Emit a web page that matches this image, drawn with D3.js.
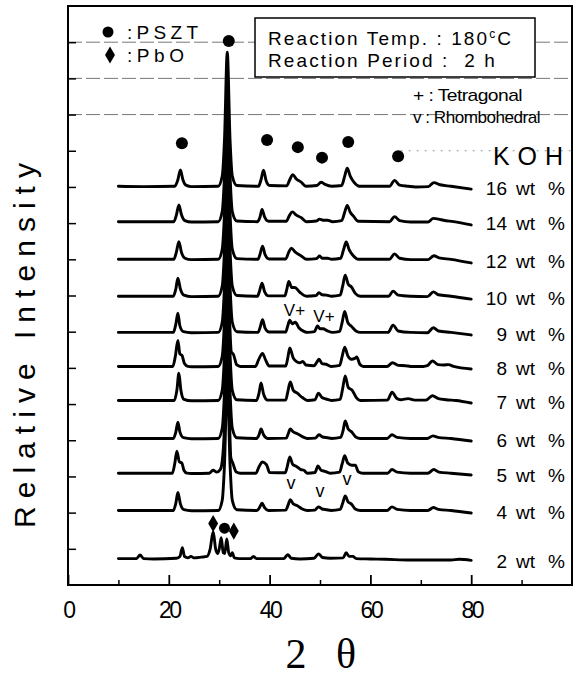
<!DOCTYPE html>
<html><head><meta charset="utf-8">
<script src="https://cdn.jsdelivr.net/npm/d3@7"></script>
<style>
html,body{margin:0;padding:0;background:#fff;}
svg{display:block;}
text{font-family:"Liberation Sans",Arial,sans-serif;fill:#000;}
</style></head>
<body>
<svg id="chart" width="575" height="678"></svg>
<script>
// ---------------- data (2θ in degrees, relative intensity in stacking units) -------------
const kohLabels = ["16","14","12","10","9","8","7","6","5","4","2"];
const offsets   = [11.0, 10.02, 8.98, 7.96, 6.96, 6.02, 5.08, 4.03, 3.07, 2.04, 0.69];

const koh16 = [[10,0.02],[15,0.01],[21.2,0.02],[21.8,0.2],[22.3,0.47],[22.8,0.2],[23.4,0.05],[24.5,0.01],[29.8,0.02],[30.6,0.3],[31.05,1.3],[31.6,3.72],[32.15,1.3],[32.6,0.3],[33.5,0.04],[37.8,0.02],[38.3,0.2],[38.8,0.46],[39.3,0.18],[40.0,0.04],[43.4,0.03],[44.0,0.2],[44.6,0.34],[45.3,0.22],[46.2,0.14],[47.2,0.02],[49.4,0.04],[50.2,0.13],[51.0,0.07],[52.3,0.02],[54.3,0.04],[54.9,0.3],[55.4,0.52],[56.0,0.3],[56.8,0.12],[57.8,0.02],[63.8,0.02],[64.8,0.18],[65.8,0.05],[67.5,0.02],[69,0.0],[71.5,0.01],[72.6,0.12],[73.8,0.06],[76,0.02],[80,-0.06]];
const koh14 = [[10,0.02],[21.0,0.02],[21.5,0.2],[22.0,0.48],[22.5,0.22],[23.2,0.05],[24.5,0.01],[29.8,0.02],[30.6,0.3],[31.05,1.3],[31.6,3.7],[32.15,1.3],[32.6,0.3],[33.5,0.04],[37.6,0.02],[38.1,0.15],[38.5,0.36],[39.0,0.15],[39.8,0.03],[43.3,0.03],[43.9,0.18],[44.5,0.29],[45.3,0.2],[46.3,0.13],[47.3,0.02],[49.3,0.04],[49.9,0.09],[50.6,0.06],[51.5,0.06],[52.5,0.02],[54.3,0.05],[54.9,0.28],[55.4,0.47],[56.0,0.28],[56.6,0.18],[57.6,0.03],[63.8,0.02],[64.8,0.16],[65.8,0.05],[68,0.01],[71.4,0.01],[72.5,0.11],[73.5,0.09],[74.5,0.06],[76.5,0.02],[80,-0.07]];
const koh12 = [[10,0.02],[21.0,0.02],[21.5,0.22],[22.0,0.51],[22.5,0.22],[23.2,0.05],[24.5,0.01],[29.8,0.02],[30.6,0.3],[31.05,1.3],[31.6,3.7],[32.15,1.3],[32.6,0.3],[33.5,0.04],[37.7,0.02],[38.1,0.16],[38.6,0.38],[39.1,0.15],[39.9,0.03],[43.2,0.03],[43.8,0.22],[44.3,0.33],[45.1,0.22],[46.2,0.12],[47.4,0.02],[49.3,0.04],[49.9,0.11],[50.5,0.05],[51.5,0.05],[52.3,0.02],[54.1,0.05],[54.7,0.3],[55.2,0.5],[55.8,0.28],[56.6,0.12],[57.6,0.02],[63.8,0.02],[64.8,0.17],[65.8,0.05],[68,0.01],[71.4,0.01],[72.6,0.12],[73.6,0.06],[76,0.02],[80,-0.08]];
const koh10 = [[10,0.02],[20.9,0.02],[21.4,0.22],[21.8,0.52],[22.3,0.22],[23.0,0.05],[24.5,0.01],[29.8,0.02],[30.6,0.3],[31.05,1.3],[31.6,3.7],[32.15,1.3],[32.6,0.3],[33.5,0.04],[37.6,0.02],[38.0,0.16],[38.5,0.38],[39.0,0.15],[39.8,0.03],[43.0,0.03],[43.4,0.2],[43.8,0.43],[44.4,0.26],[45.0,0.26],[46.0,0.13],[47.3,0.02],[49.2,0.04],[49.8,0.12],[50.4,0.06],[51.3,0.05],[52.3,0.02],[54.0,0.05],[54.5,0.3],[55.0,0.6],[55.6,0.35],[56.2,0.28],[57.0,0.1],[58.0,0.02],[63.6,0.02],[64.5,0.16],[65.5,0.05],[68,0.02],[71.3,0.01],[72.5,0.14],[73.5,0.06],[76,0.02],[80,-0.06]];
const koh9  = [[10,0.02],[20.9,0.02],[21.4,0.25],[21.8,0.55],[22.2,0.2],[22.9,0.04],[24.5,0.01],[29.8,0.02],[30.6,0.3],[31.05,1.3],[31.6,3.7],[32.15,1.3],[32.6,0.3],[33.5,0.04],[37.7,0.02],[38.1,0.15],[38.6,0.37],[39.1,0.14],[39.9,0.03],[43.2,0.03],[43.6,0.2],[44.0,0.36],[44.5,0.26],[45.1,0.3],[45.8,0.15],[46.8,0.05],[47.6,0.02],[48.9,0.04],[49.5,0.2],[50.0,0.12],[50.6,0.12],[51.5,0.06],[52.5,0.02],[53.9,0.05],[54.4,0.3],[54.9,0.6],[55.5,0.3],[56.3,0.18],[57.2,0.05],[58.0,0.02],[63.5,0.02],[64.5,0.22],[65.5,0.06],[68,0.02],[71.3,0.01],[72.5,0.15],[73.5,0.06],[76,0.02],[80,-0.05]];
const koh8  = [[10,0.02],[20.8,0.02],[21.3,0.3],[21.8,0.74],[22.2,0.36],[22.6,0.33],[23.1,0.1],[23.8,0.02],[24.5,0.01],[29.8,0.02],[30.6,0.3],[31.05,1.3],[31.6,3.7],[32.1,1.2],[32.4,0.42],[32.8,0.36],[33.5,0.06],[34.2,0.02],[37.2,0.02],[37.8,0.2],[38.6,0.38],[39.2,0.2],[39.9,0.03],[43.2,0.03],[43.6,0.25],[44.0,0.53],[44.7,0.25],[45.5,0.14],[46.0,0.12],[46.6,0.16],[47.2,0.06],[48.8,0.04],[49.3,0.12],[49.8,0.22],[50.4,0.1],[51.2,0.08],[52.2,0.02],[53.9,0.05],[54.4,0.3],[54.9,0.55],[55.5,0.32],[56.2,0.22],[57.0,0.25],[57.3,0.28],[57.9,0.08],[58.6,0.02],[63.3,0.02],[64.4,0.12],[65.5,0.05],[67,0.04],[68,0.02],[70.5,0.02],[71.3,0.04],[72.3,0.17],[73.4,0.07],[74.5,0.06],[75.5,0.07],[76.5,0.02],[80,-0.05]];
const koh7  = [[10,0.02],[21.1,0.02],[21.6,0.3],[22.0,0.77],[22.4,0.3],[23.0,0.05],[24.5,0.01],[29.8,0.02],[30.6,0.3],[31.05,1.3],[31.6,3.7],[32.15,1.3],[32.6,0.3],[33.5,0.04],[37.4,0.02],[37.9,0.22],[38.3,0.5],[38.8,0.2],[39.6,0.03],[43.2,0.03],[43.6,0.25],[44.1,0.53],[44.7,0.3],[45.5,0.22],[46.5,0.1],[47.5,0.02],[49.0,0.04],[49.7,0.22],[50.4,0.1],[51.2,0.06],[52.3,0.02],[54.0,0.05],[54.5,0.35],[55.0,0.7],[55.6,0.38],[56.4,0.3],[57.2,0.1],[58.0,0.02],[63.4,0.03],[64.3,0.25],[65.2,0.08],[66.0,0.04],[67.5,0.07],[68.8,0.03],[71.0,0.03],[72.3,0.15],[73.5,0.07],[75,0.04],[77,0.02],[80,-0.05]];
const koh6  = [[10,0.02],[20.9,0.02],[21.4,0.2],[21.8,0.47],[22.2,0.2],[22.9,0.04],[24.5,0.01],[29.8,0.02],[30.6,0.3],[31.05,1.3],[31.6,3.7],[32.15,1.3],[32.6,0.3],[33.5,0.04],[37.4,0.02],[37.9,0.12],[38.3,0.28],[38.8,0.12],[39.6,0.02],[43.3,0.03],[43.7,0.15],[44.1,0.28],[44.7,0.2],[45.5,0.15],[46.5,0.07],[47.5,0.02],[49.1,0.03],[49.8,0.12],[50.5,0.06],[51.5,0.04],[52.3,0.02],[54.1,0.05],[54.6,0.25],[55.0,0.5],[55.6,0.28],[56.3,0.2],[57.1,0.06],[58.0,0.02],[63.3,0.02],[64.3,0.12],[65.3,0.05],[68,0.02],[71.3,0.02],[72.4,0.09],[73.4,0.05],[76,0.02],[80,-0.05]];
const koh5  = [[10,0.02],[20.7,0.02],[21.2,0.3],[21.6,0.63],[22.1,0.33],[22.6,0.3],[23.0,0.1],[23.6,0.02],[24.5,0.01],[28.0,0.02],[28.8,0.1],[29.5,0.05],[30.2,0.12],[30.6,0.35],[31.05,1.3],[31.6,3.7],[32.1,1.2],[32.3,0.45],[32.7,0.3],[33.4,0.05],[34.2,0.02],[37.3,0.02],[37.9,0.2],[38.6,0.33],[39.4,0.25],[40.0,0.04],[43.1,0.03],[43.5,0.2],[44.0,0.47],[44.6,0.26],[45.4,0.2],[46.2,0.12],[46.8,0.1],[47.5,0.02],[49.0,0.04],[49.6,0.22],[50.2,0.1],[51.0,0.07],[52.0,0.02],[53.9,0.05],[54.4,0.28],[54.9,0.5],[55.5,0.3],[56.3,0.24],[57.0,0.24],[57.6,0.06],[58.5,0.02],[63.4,0.02],[64.3,0.12],[65.3,0.05],[68,0.02],[71.4,0.02],[72.6,0.12],[73.6,0.05],[76,0.02],[80,-0.03]];
const koh4  = [[10,0.02],[20.9,0.02],[21.4,0.22],[21.8,0.52],[22.3,0.2],[23.0,0.04],[24.5,0.01],[29.8,0.02],[30.6,0.3],[31.05,1.3],[31.6,3.7],[32.15,1.3],[32.6,0.3],[33.5,0.04],[37.5,0.02],[38.0,0.1],[38.5,0.22],[39.0,0.1],[39.8,0.02],[43.2,0.03],[43.7,0.18],[44.1,0.32],[44.7,0.2],[45.5,0.15],[46.5,0.06],[47.5,0.02],[49.0,0.03],[49.7,0.12],[50.4,0.06],[51.3,0.04],[52.2,0.02],[54.0,0.05],[54.5,0.22],[55.0,0.42],[55.6,0.25],[56.2,0.2],[57.0,0.06],[58.0,0.02],[63.3,0.02],[64.3,0.12],[65.3,0.05],[68,0.02],[71.4,0.02],[72.5,0.1],[73.5,0.05],[76,0.02],[80,-0.05]];
const koh2  = [[10,0.04],[13.6,0.04],[14.3,0.14],[15.0,0.04],[17,0.03],[21.5,0.05],[22.2,0.1],[22.7,0.34],[23.1,0.1],[23.8,0.06],[24.4,0.1],[25.0,0.06],[26.5,0.08],[27.6,0.1],[28.2,0.3],[28.8,0.78],[29.3,0.3],[29.7,0.18],[30.0,0.3],[30.4,0.62],[30.8,0.2],[31.1,0.18],[31.5,0.58],[31.9,0.2],[32.3,0.12],[32.6,0.2],[33.0,0.06],[34,0.04],[36.2,0.04],[36.8,0.1],[37.4,0.04],[39,0.04],[42.8,0.04],[43.6,0.15],[44.3,0.05],[46,0.03],[48.8,0.05],[49.7,0.17],[50.5,0.07],[52,0.05],[54.6,0.06],[55.2,0.2],[55.8,0.1],[56.5,0.1],[57.2,0.04],[60,0.03],[63,0.02],[68,0.0],[76,0.0],[77.6,0.02],[80,-0.01]];
const patterns = [koh16, koh14, koh12, koh10, koh9, koh8, koh7, koh6, koh5, koh4, koh2];

// phase markers: [2θ, stacked intensity]
const psztDots   = [[22.6,12.21],[31.9,15.03],[39.5,12.30],[45.6,12.10],[50.4,11.81],[55.6,12.24],[65.5,11.85]];
const psztDots2  = [[31.05,1.57]];
const pboMarks   = [[28.8,1.70],[32.9,1.49]];
const tetraMarks = [[44.94,7.60,"V+"],[50.79,7.45,"V+"]];
const rhomboMarks= [[44.25,2.76],[50.0,2.54],[55.36,2.85]];

const thetaTicks = [0,20,40,60,80];
const thetaMinor = [10,30,50,70,90];
const intensityTicks = [1,2,3,4,5,6,7,8,9,10,11,12,13,14,15];
const gridLevels = [15,14,13];

// ---------------- drawing -------------
const svg = d3.select("#chart");
const L = 68, R = 572, T = 6, B = 585;
const x = d3.scaleLinear().domain([0,100]).range([L,R]);
const y = d3.scaleLinear().domain([0,16]).range([B,T]);

// faint dashed scan lines
svg.append("g").selectAll("line").data(gridLevels).join("line")
  .attr("x1",L).attr("x2",R).attr("y1",d=>y(d)).attr("y2",d=>y(d))
  .attr("stroke","#777").attr("stroke-width",1).attr("stroke-dasharray","14,4");
svg.append("line").attr("x1",x(66)).attr("x2",R).attr("y1",y(12)).attr("y2",y(12))
  .attr("stroke","#999").attr("stroke-width",1).attr("stroke-dasharray","2,6");

// traces
const line = d3.line().x(d=>x(d[0])).y(d=>d[1]).curve(d3.curveMonotoneX);
svg.append("g").selectAll("path").data(patterns).join("path")
  .attr("d",(p,i)=>line(p.map(d=>[d[0], y(offsets[i]+d[1])])))
  .attr("fill","none").attr("stroke","#000").attr("stroke-width",2.9)
  .attr("stroke-linejoin","round").attr("stroke-linecap","round");

// frame
svg.append("rect").attr("x",L).attr("y",T).attr("width",R-L).attr("height",B-T)
  .attr("fill","none").attr("stroke","#000").attr("stroke-width",2);

// axes ticks (inward)
const xAx = svg.append("g").attr("transform",`translate(0,${B})`)
  .call(d3.axisBottom(x).tickValues(thetaTicks).tickSize(-10).tickPadding(17).tickFormat(d3.format("d")));
xAx.select(".domain").remove();
xAx.selectAll("line").attr("stroke","#000").attr("stroke-width",1.8);
xAx.selectAll("text").attr("font-size",23).attr("font-family","Liberation Sans, Arial, sans-serif")
  .attr("letter-spacing",-2.5).attr("fill","#000");
const xMin = svg.append("g").attr("transform",`translate(0,${B})`)
  .call(d3.axisBottom(x).tickValues(thetaMinor).tickSize(-5).tickFormat(""));
xMin.select(".domain").remove();
xMin.selectAll("line").attr("stroke","#000").attr("stroke-width",1.5);

const yAx = svg.append("g").attr("transform",`translate(${L},0)`)
  .call(d3.axisLeft(y).tickValues(intensityTicks).tickSize(-8).tickFormat(""));
yAx.select(".domain").remove();
yAx.selectAll("line").attr("stroke","#000").attr("stroke-width",1.5);

// markers
svg.append("g").selectAll("circle").data(psztDots.concat(psztDots2)).join("circle")
  .attr("cx",d=>x(d[0])).attr("cy",d=>y(d[1])).attr("r",(d,i)=>i<psztDots.length?6:5.5).attr("fill","#000");
svg.append("g").selectAll("path").data(pboMarks).join("path")
  .attr("d",d3.symbol(d3.symbolDiamond).size(85)())
  .attr("transform",d=>`translate(${x(d[0])},${y(d[1])})`).attr("fill","#000");
svg.append("g").selectAll("text").data(tetraMarks).join("text")
  .attr("x",d=>x(d[0])).attr("y",d=>y(d[1])).attr("dy","0.36em").attr("text-anchor","middle")
  .attr("font-size",17).text(d=>d[2]);
svg.append("g").selectAll("text").data(rhomboMarks).join("text")
  .attr("x",d=>x(d[0])).attr("y",d=>y(d[1])).attr("dy","0.2em").attr("text-anchor","middle")
  .attr("font-size",18).text("v");

// trace labels
const lab = svg.append("g").selectAll("g").data(kohLabels).join("g")
  .attr("transform",(d,i)=>`translate(0,${y(offsets[i])+1})`);
lab.append("text").attr("x",507).attr("dy","0.36em").attr("text-anchor","end").attr("font-size",19).text(d=>d);
lab.append("text").attr("x",516).attr("dy","0.36em").attr("font-size",19).text("wt");
lab.append("text").attr("x",548).attr("dy","0.36em").attr("font-size",19).text("%");

svg.append("text").attr("x",493).attr("y",165).attr("font-size",25).attr("textLength",70)
  .attr("lengthAdjust","spacing").text("KOH");

// legend (top-left)
svg.append("circle").attr("cx",108).attr("cy",32).attr("r",5.5).attr("fill","#000");
svg.append("text").attr("x",127).attr("y",39).attr("font-size",19).attr("textLength",71).text(":PSZT");
svg.append("path").attr("d",d3.symbol(d3.symbolDiamond).size(85)()).attr("transform","translate(110,55)").attr("fill","#000");
svg.append("text").attr("x",127).attr("y",62).attr("font-size",19).attr("textLength",57).text(":PbO");

// condition box
svg.append("rect").attr("x",255).attr("y",18).attr("width",280).attr("height",59)
  .attr("fill","#fff").attr("stroke","#000").attr("stroke-width",1.5);
const t1 = svg.append("text").attr("x",268).attr("y",45).attr("font-size",19).attr("letter-spacing",2.1);
t1.append("tspan").text("Reaction Temp. : 180");
t1.append("tspan").attr("font-size",12).attr("dy",-7).text("c");
t1.append("tspan").attr("dy",7).text("C");
svg.append("text").attr("x",268).attr("y",67).attr("font-size",19).attr("letter-spacing",2.1)
  .attr("xml:space","preserve").style("white-space","pre").text("Reaction Period :  2 h");

svg.append("text").attr("x",413).attr("y",101).attr("font-size",17).attr("textLength",109)
  .attr("lengthAdjust","spacingAndGlyphs").attr("letter-spacing",-0.5).text("+ : Tetragonal");
svg.append("text").attr("x",413).attr("y",123).attr("font-size",17).attr("textLength",127)
  .attr("lengthAdjust","spacingAndGlyphs").attr("letter-spacing",-0.5).text("v : Rhombohedral");

// axis titles
svg.append("text").attr("transform","translate(35,345.5) rotate(-90)").attr("text-anchor","middle")
  .attr("font-size",30).attr("textLength",365).attr("lengthAdjust","spacing").text("Relative Intensity");
svg.append("text").attr("x",296).attr("y",668).attr("text-anchor","middle")
  .attr("font-size",42).style("font-family","'Liberation Serif','Times New Roman',serif").text("2");
svg.append("text").attr("x",346).attr("y",668).attr("text-anchor","middle")
  .attr("font-size",42).style("font-family","'Liberation Serif','Times New Roman',serif").text("θ");
</script>
</body></html>
